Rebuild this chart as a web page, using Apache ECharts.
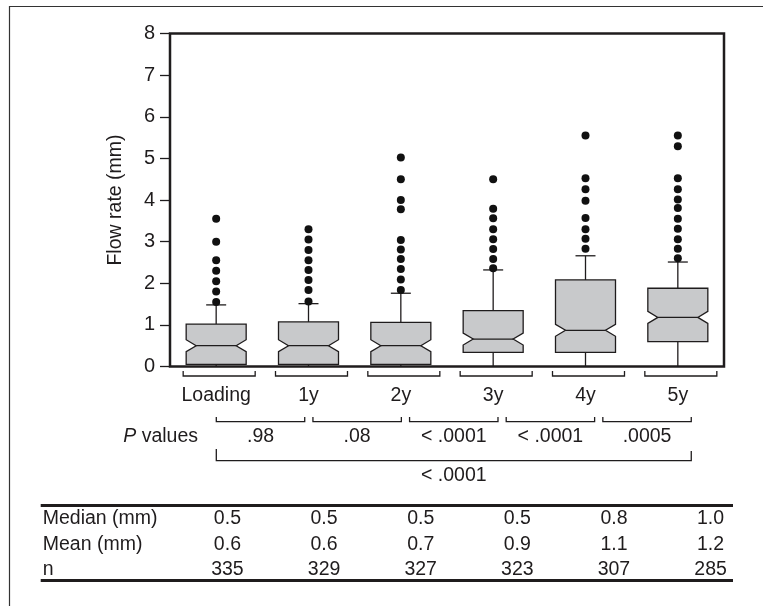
<!DOCTYPE html>
<html>
<head>
<meta charset="utf-8">
<script src="https://cdn.jsdelivr.net/npm/echarts@6/dist/echarts.min.js"></script>
<style>
  html, body { margin: 0; padding: 0; background: #fff; }
  #chart { width: 763px; height: 606px; }
</style>
</head>
<body>
<div id="chart"></div>
<script>
// groups along the x axis
const categories = ['Loading', '1y', '2y', '3y', '4y', '5y'];

// box statistics (mm)
const boxMin = [0, 0, 0, 0, 0, 0];
const boxQ1 = [0.05, 0.05, 0.05, 0.34, 0.34, 0.60];
const boxMedian = [0.50, 0.50, 0.50, 0.66, 0.87, 1.18];
const boxQ3 = [1.02, 1.07, 1.06, 1.34, 2.08, 1.88];
const boxMax = [1.48, 1.51, 1.76, 2.32, 2.66, 2.51];

// outlying points per group
const outliers = [
  [1.55, 1.80, 2.05, 2.30, 2.55, 3.00, 3.55],
  [1.56, 1.84, 2.08, 2.32, 2.55, 2.80, 3.05, 3.30],
  [1.84, 2.09, 2.34, 2.58, 2.81, 3.04, 3.78, 4.00, 4.50, 5.02],
  [2.36, 2.58, 2.82, 3.06, 3.30, 3.56, 3.79, 4.50],
  [2.83, 3.07, 3.30, 3.57, 3.98, 4.26, 4.52, 5.55],
  [2.60, 2.83, 3.06, 3.31, 3.55, 3.81, 4.01, 4.26, 4.52, 5.29, 5.55]
];

// pairwise P values between neighbouring groups, and overall
const pValues = ['.98', '.08', '< .0001', '< .0001', '.0005'];
const overallP = '< .0001';

// summary table
const rowLabels = ['Median (mm)', 'Mean (mm)', 'n'];
const medians = ['0.5', '0.5', '0.5', '0.5', '0.8', '1.0'];
const means = ['0.6', '0.6', '0.7', '0.9', '1.1', '1.2'];
const counts = ['335', '329', '327', '323', '307', '285'];
const tableRows = [medians, means, counts];

const INK = '#1f1c1d';
const BOX_FILL = '#c8c9cb';
const FONT = 'Liberation Sans, Arial, sans-serif';
const FS = 19.5;
const BOX_HALF = 30, NOTCH_HALF = 20, NOTCH_H = 6, CAP_HALF = 10;
const ROW_Y = [519, 545, 570];

const chart = echarts.init(document.getElementById('chart'));

function renderBox(params, api) {
  const i = api.value(0);
  const x = api.coord([i, 0])[0];
  const yMin = api.coord([i, api.value(1)])[1];
  const yQ1 = api.coord([i, api.value(2)])[1];
  const yMed = api.coord([i, api.value(3)])[1];
  const yQ3 = api.coord([i, api.value(4)])[1];
  const yMax = api.coord([i, api.value(5)])[1];
  const nh = Math.max(1, Math.min(NOTCH_H, yQ1 - yMed - 1, yMed - yQ3 - 1));
  const line = { stroke: INK, lineWidth: 1.3, fill: null };
  const pts = [
    [x - BOX_HALF, yQ3], [x + BOX_HALF, yQ3], [x + BOX_HALF, yMed - nh],
    [x + NOTCH_HALF, yMed], [x + BOX_HALF, yMed + nh], [x + BOX_HALF, yQ1],
    [x - BOX_HALF, yQ1], [x - BOX_HALF, yMed + nh], [x - NOTCH_HALF, yMed],
    [x - BOX_HALF, yMed - nh]
  ];
  return {
    type: 'group',
    children: [
      { type: 'line', shape: { x1: x, y1: yQ3, x2: x, y2: yMax }, style: line },
      { type: 'line', shape: { x1: x - CAP_HALF, y1: yMax, x2: x + CAP_HALF, y2: yMax }, style: line },
      { type: 'line', shape: { x1: x, y1: yQ1, x2: x, y2: yMin }, style: line },
      { type: 'polygon', shape: { points: pts }, style: { fill: BOX_FILL, stroke: INK, lineWidth: 1.3 } },
      { type: 'line', shape: { x1: x - NOTCH_HALF, y1: yMed, x2: x + NOTCH_HALF, y2: yMed }, style: line }
    ]
  };
}

function textEl(x, y, text, align) {
  return {
    type: 'text', x: x, y: y,
    style: {
      text: text, fill: INK, fontSize: FS, fontFamily: FONT,
      align: align || 'center', verticalAlign: 'middle',
      textAlign: align || 'center', textVerticalAlign: 'middle'
    }
  };
}

function bracket(xa, xb, yTop, yBottom, yTopRight) {
  return {
    type: 'polyline',
    shape: { points: [[xa, yTop], [xa, yBottom], [xb, yBottom], [xb, yTopRight == null ? yTop : yTopRight]] },
    style: { stroke: INK, lineWidth: 1.3, fill: null }
  };
}

// group brackets under the plot
function renderGroupBracket(params, api) {
  const p = api.coord([api.value(0), 0]);
  const x = p[0] + 3;
  return bracket(x - 36, x + 36, p[1] + 4.5, p[1] + 9.5);
}

// P value brackets, placed on the table grid
const P_START = -0.115, P_END = -0.2;
function renderPBracket(params, api) {
  const k = api.value(0);
  const xa = api.coord([k + P_START, 0])[0];
  const xb = api.coord([k + 1 + P_END, 0])[0];
  return {
    type: 'group',
    children: [
      bracket(xa, xb, 417, 421.7),
      textEl((xa + xb) / 2, 437, pValues[params.dataIndex])
    ]
  };
}

function renderOverall(params, api) {
  const xa = api.coord([P_START, 0])[0];
  const xb = api.coord([categories.length - 1 + P_END, 0])[0];
  return {
    type: 'group',
    children: [
      bracket(xa, xb, 449, 460.7, 451),
      textEl((xa + xb) / 2, 476, overallP)
    ]
  };
}

function renderCell(params, api) {
  const i = api.value(0), r = api.value(1);
  const x = api.coord([i, 0])[0];
  return textEl(x, ROW_Y[r], tableRows[r][i]);
}

const cellData = [];
tableRows.forEach((row, r) => row.forEach((v, i) => cellData.push([i, r])));

const option = {
  animation: false,
  backgroundColor: '#fff',
  grid: [
    { left: 170, right: 39, top: 33.5, bottom: 239.5, show: true, borderColor: INK, borderWidth: 2.5 },
    { left: 179.1, right: 4.1, top: 400, bottom: 100, show: false }
  ],
  xAxis: [
    {
      type: 'category', data: categories, gridIndex: 0,
      axisLine: { show: false }, axisTick: { show: false }, splitLine: { show: false },
      axisLabel: { color: INK, fontSize: FS, fontFamily: FONT, margin: 19 }
    },
    { type: 'value', gridIndex: 1, min: -0.5, max: 5.5, show: false }
  ],
  yAxis: [
    {
      type: 'value', gridIndex: 0, min: 0, max: 8, interval: 1,
      name: 'Flow rate (mm)', nameLocation: 'middle', nameGap: 44,
      nameTextStyle: { color: INK, fontSize: 19.5, fontFamily: FONT },
      axisLine: { show: false },
      axisTick: { show: true, inside: false, length: 10, lineStyle: { color: INK, width: 1.3 } },
      axisLabel: { color: INK, fontSize: 20, fontFamily: FONT, margin: 15 },
      splitLine: { show: false }
    },
    { type: 'value', gridIndex: 1, min: 0, max: 1, show: false }
  ],
  graphic: [
    {
      type: 'polyline', shape: { points: [[763, 6.5], [9.5, 6.5], [9.5, 606]] },
      style: { stroke: '#333', lineWidth: 1.2, fill: null }
    },
    { type: 'line', shape: { x1: 40.7, y1: 505.5, x2: 733, y2: 505.5 }, style: { stroke: INK, lineWidth: 2.8 } },
    { type: 'line', shape: { x1: 40.7, y1: 580.5, x2: 733, y2: 580.5 }, style: { stroke: INK, lineWidth: 2.8 } },
    ...rowLabels.map((t, r) => textEl(42.7, ROW_Y[r], t, 'left')),
    {
      type: 'text', x: 198, y: 437,
      style: {
        text: '{i|P} values', fill: INK, fontSize: FS, fontFamily: FONT,
        align: 'right', verticalAlign: 'middle', textAlign: 'right', textVerticalAlign: 'middle',
        rich: { i: { fontStyle: 'italic', fontSize: FS, fontFamily: FONT, fill: INK } }
      }
    }
  ],
  series: [
    {
      type: 'custom', name: 'box', xAxisIndex: 0, yAxisIndex: 0,
      renderItem: renderBox,
      encode: { x: 0, y: [1, 2, 3, 4, 5] },
      data: categories.map((c, i) => [i, boxMin[i], boxQ1[i], boxMedian[i], boxQ3[i], boxMax[i]]),
      z: 2
    },
    {
      type: 'scatter', name: 'outliers', xAxisIndex: 0, yAxisIndex: 0,
      symbolSize: 8, itemStyle: { color: '#111', opacity: 1 },
      data: outliers.flatMap((vals, i) => vals.map(v => [i, v])),
      z: 3
    },
    {
      type: 'custom', name: 'groups', xAxisIndex: 0, yAxisIndex: 0, clip: false,
      renderItem: renderGroupBracket,
      data: categories.map((c, i) => [i, 0])
    },
    {
      type: 'custom', name: 'pvalues', xAxisIndex: 1, yAxisIndex: 1, clip: false,
      renderItem: renderPBracket,
      data: pValues.map((p, k) => [k, 0])
    },
    {
      type: 'custom', name: 'overall', xAxisIndex: 1, yAxisIndex: 1, clip: false,
      renderItem: renderOverall,
      data: [[0, 0]]
    },
    {
      type: 'custom', name: 'table', xAxisIndex: 1, yAxisIndex: 1, clip: false,
      renderItem: renderCell,
      data: cellData
    }
  ]
};

chart.setOption(option);
</script>
</body>
</html>
